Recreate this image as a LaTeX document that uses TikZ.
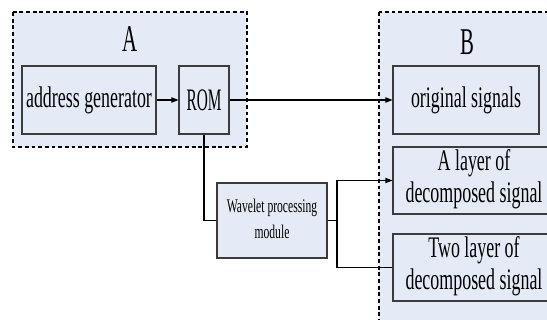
\documentclass[tikz,border=0pt]{standalone}
\usepackage{fontspec}
\usepackage{graphicx}
\setmainfont{Liberation Serif}
\usetikzlibrary{arrows.meta}
\definecolor{panelfill}{RGB}{229,235,246}
\definecolor{boxline}{RGB}{60,60,60}
\newcommand{\narrow}[2][0.6]{\scalebox{#1}[1]{#2}}
\newcommand{\twolines}[2]{\narrow{\begin{tabular}{@{}c@{}}#1\\#2\end{tabular}}}

\begin{document}
\begin{tikzpicture}[x=0.02cm, y=-0.02cm,
		panel/.style={draw, dash pattern=on 2.2pt off 1.6pt, fill=panelfill, line width=0.7pt},
		block/.style={draw=boxline, fill=panelfill, line width=0.6pt, inner sep=0pt,
			font=\fontsize{17}{18.2}\selectfont},
		title/.style={inner sep=0pt, font=\fontsize{21.5}{24}\selectfont},
		link/.style={line width=0.6pt},
		linkarrow/.style={link, -{Triangle[length=4pt, width=3pt]}}]
		\clip (0,0) rectangle (547,320);

		\begin{scope}
			\draw[panel] (13,12) rectangle (247,147);
			\node[title] (titleA) at (130,39) {\narrow[0.55]{A}};
			\node[block, minimum width=2.68cm, minimum height=1.36cm] (addr) at (89,100) {\narrow{address generator}};
			\node[block, minimum width=1.0cm, minimum height=1.36cm, font=\fontsize{17.8}{20}\selectfont] (rom) at (204,100) {\narrow[0.49]{ROM}};
		\end{scope}

		\begin{scope}
			\draw[panel] (379,12) rectangle (600,340);
			\node[title] (titleB) at (467,42) {\narrow[0.55]{B}};
			\node[block, minimum width=2.92cm, minimum height=1.36cm] (orig) at (466,100) {\narrow{original signals}};
			\node[block, minimum width=3.24cm, minimum height=1.34cm] (layer1) at (474,180.5) {\twolines{A layer of}{decomposed signal}};
			\node[block, minimum width=3.24cm, minimum height=1.34cm] (layer2) at (474,267.5) {\twolines{Two layer of}{decomposed signal}};
		\end{scope}

		\node[block, minimum width=2.2cm, minimum height=1.5cm, font=\fontsize{11}{14.8}\selectfont] (wave) at (272,220.5) {\twolines{Wavelet processing}{module}};
		\coordinate (split) at (337,220.5);

		\draw[linkarrow] (addr) -- (rom);
		\draw[linkarrow] (rom.east) -- (orig.west);
		\draw[link] (rom.south) |- (wave.west);
		\draw[link] (wave.east) -- (split);
		\draw[linkarrow] (split) |- (layer1.west);
		\draw[link] (split) |- (layer2.west);
	\end{tikzpicture}
\end{document}
